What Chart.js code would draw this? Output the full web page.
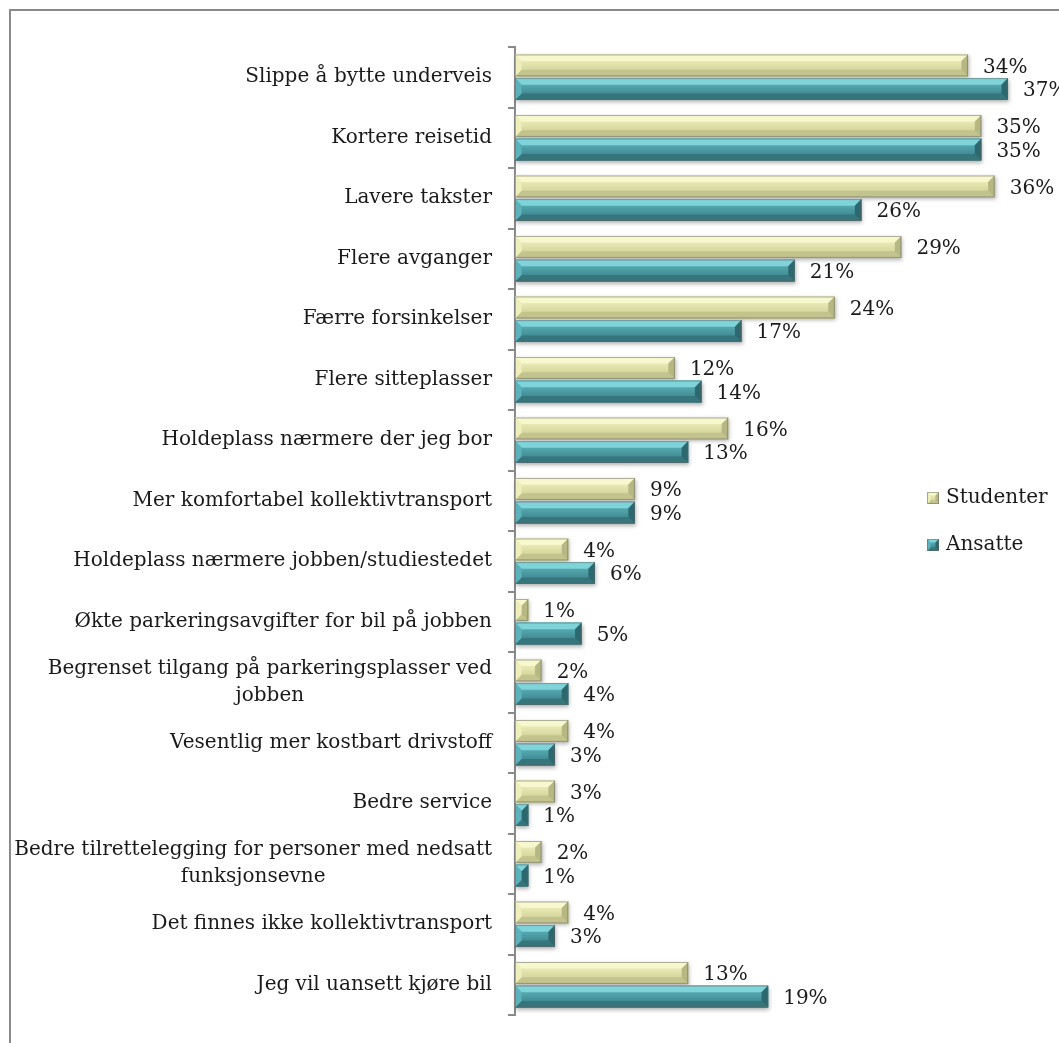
<!DOCTYPE html>
<html>
<head>
<meta charset="utf-8">
<script src="https://cdn.jsdelivr.net/npm/chart.js@4.4.1/dist/chart.umd.min.js"></script>
<style>
  body { margin: 0; background: #fff; }
  #wrap { width: 1059px; height: 1043px; }
</style>
</head>
<body>
<div id="wrap"><canvas id="myChart" width="1059" height="1043"></canvas></div>
<script>
const categories = [
  'Slippe å bytte underveis',
  'Kortere reisetid',
  'Lavere takster',
  'Flere avganger',
  'Færre forsinkelser',
  'Flere sitteplasser',
  'Holdeplass nærmere der jeg bor',
  'Mer komfortabel kollektivtransport',
  'Holdeplass nærmere jobben/studiestedet',
  'Økte parkeringsavgifter for bil på jobben',
  ['Begrenset tilgang på parkeringsplasser ved', 'jobben'],
  'Vesentlig mer kostbart drivstoff',
  'Bedre service',
  ['Bedre tilrettelegging for personer med nedsatt', 'funksjonsevne'],
  'Det finnes ikke kollektivtransport',
  'Jeg vil uansett kjøre bil'
];
const studenter = [34, 35, 36, 29, 24, 12, 16, 9, 4, 1, 2, 4, 3, 2, 4, 13];
const ansatte   = [37, 35, 26, 21, 17, 14, 13, 9, 6, 5, 4, 3, 1, 1, 3, 19];
const seriesNames = ['Studenter', 'Ansatte'];

const FONT = '"DejaVu Serif", "Liberation Serif", serif';
const TEXT = '#1a1a1a';

// bevel shades per series
const shades = [
  { top: '#f8f8cf', midA: '#e9e9b4', midB: '#d6d69e', bottom: '#c3c38e', left: '#eeeebb', right: '#b7b783' },
  { top: '#7fd4da', midA: '#55a8b0', midB: '#438d95', bottom: '#36757c', left: '#5cb2ba', right: '#2e686f' }
];

function poly(ctx, pts, fill) {
  ctx.beginPath();
  ctx.moveTo(pts[0][0], pts[0][1]);
  for (let i = 1; i < pts.length; i++) ctx.lineTo(pts[i][0], pts[i][1]);
  ctx.closePath();
  ctx.fillStyle = fill;
  ctx.fill();
}

function bevelBox(ctx, x0, x1, y0, y1, c, shadow) {
  const w = x1 - x0, h = y1 - y0;
  if (w <= 0) return;
  const b = Math.min(h * 0.3, w / 2);
  const g = ctx.createLinearGradient(0, y0 + b, 0, y1 - b);
  g.addColorStop(0, c.midA);
  g.addColorStop(1, c.midB);
  ctx.save();
  if (shadow) {
    ctx.shadowColor = 'rgba(0,0,0,0.3)';
    ctx.shadowBlur = 4;
    ctx.shadowOffsetX = 1;
    ctx.shadowOffsetY = 2;
  }
  ctx.fillStyle = g;
  ctx.fillRect(x0, y0, w, h);
  ctx.restore();
  poly(ctx, [[x0, y0], [x1, y0], [x1 - b, y0 + b], [x0 + b, y0 + b]], c.top);
  poly(ctx, [[x0, y1], [x1, y1], [x1 - b, y1 - b], [x0 + b, y1 - b]], c.bottom);
  poly(ctx, [[x0, y0], [x0 + b, y0 + b], [x0 + b, y1 - b], [x0, y1]], c.left);
  poly(ctx, [[x1, y0], [x1 - b, y0 + b], [x1 - b, y1 - b], [x1, y1]], c.right);
  ctx.strokeStyle = 'rgba(100,100,100,0.5)';
  ctx.lineWidth = 1;
  ctx.strokeRect(x0 + 0.5, y0 + 0.5, w - 1, h - 1);
}

// white page with the grey frame
const framePlugin = {
  id: 'frame',
  beforeDraw(chart) {
    const ctx = chart.ctx;
    ctx.save();
    ctx.fillStyle = '#fff';
    ctx.fillRect(0, 0, chart.width, chart.height);
    ctx.strokeStyle = '#8a8a8a';
    ctx.lineWidth = 2;
    ctx.strokeRect(10, 10, chart.width + 20, chart.height + 20);
    ctx.restore();
  }
};

// bevelled bars + value labels
const barPlugin = {
  id: 'bevelBars',
  afterDatasetsDraw(chart) {
    const ctx = chart.ctx;
    chart.data.datasets.forEach((ds, di) => {
      const meta = chart.getDatasetMeta(di);
      meta.data.forEach(el => {
        const half = el.height / 2;
        bevelBox(ctx, el.base, el.x, el.y - half, el.y + half, shades[di], true);
      });
    });
    ctx.save();
    ctx.font = '20px ' + FONT;
    ctx.fillStyle = TEXT;
    ctx.textAlign = 'left';
    ctx.textBaseline = 'middle';
    chart.data.datasets.forEach((ds, di) => {
      const meta = chart.getDatasetMeta(di);
      meta.data.forEach((el, i) => {
        ctx.fillText(ds.data[i] + '%', el.x + 15, el.y + 2);
      });
    });
    ctx.restore();
  }
};

// two-line category labels are centred on their widest line
const wrapLabelPlugin = {
  id: 'wrapLabels',
  afterDraw(chart) {
    const ctx = chart.ctx;
    const y = chart.scales.y;
    const right = y.right - 7 - 16;
    ctx.save();
    ctx.font = '20px ' + FONT;
    ctx.fillStyle = TEXT;
    ctx.textAlign = 'center';
    ctx.textBaseline = 'middle';
    categories.forEach((lab, i) => {
      if (!Array.isArray(lab)) return;
      const widest = Math.max(...lab.map(s => ctx.measureText(s).width));
      const cx = right - widest / 2;
      const cy = y.getPixelForTick(i);
      const lh = 27;
      lab.forEach((s, k) => {
        ctx.fillText(s, cx, cy + (k - (lab.length - 1) / 2) * lh);
      });
    });
    ctx.restore();
  }
};

// legend sitting inside the plot area on the right
const legendPlugin = {
  id: 'sideLegend',
  afterDraw(chart) {
    const ctx = chart.ctx;
    const a = chart.chartArea;
    const x = a.right - 121;
    const mid = (a.top + a.bottom) / 2;
    const rows = [mid - 33, mid + 14];
    ctx.save();
    ctx.font = '20px ' + FONT;
    ctx.textAlign = 'left';
    ctx.textBaseline = 'middle';
    seriesNames.forEach((name, i) => {
      const cy = rows[i];
      bevelBox(ctx, x, x + 12, cy - 6, cy + 6, shades[i], false);
      ctx.fillStyle = TEXT;
      ctx.fillText(name, x + 19, cy);
    });
    ctx.restore();
  }
};

const ctx = document.getElementById('myChart');

new Chart(ctx, {
  type: 'bar',
  data: {
    labels: categories,
    datasets: [
      { label: seriesNames[0], data: studenter, backgroundColor: shades[0].midA, borderWidth: 0,
        categoryPercentage: 0.78, barPercentage: 0.93 },
      { label: seriesNames[1], data: ansatte, backgroundColor: shades[1].midA, borderWidth: 0,
        categoryPercentage: 0.78, barPercentage: 0.93 }
    ]
  },
  options: {
    indexAxis: 'y',
    responsive: false,
    animation: false,
    layout: { padding: { left: 0, right: 11, top: 47, bottom: 14 } },
    plugins: {
      legend: { display: false },
      tooltip: { enabled: false }
    },
    scales: {
      x: { display: false, min: 0, max: 40 },
      y: {
        border: { color: '#8a8a8a', width: 2 },
        grid: { drawOnChartArea: false, tickLength: 7, color: '#8a8a8a', lineWidth: 2 },
        ticks: {
          padding: 16,
          font: { family: FONT, size: 20 },
          color: c => Array.isArray(categories[c.index]) ? 'rgba(0,0,0,0)' : TEXT
        },
        afterFit(scale) { scale.width = 515; }
      }
    }
  },
  plugins: [framePlugin, barPlugin, wrapLabelPlugin, legendPlugin]
});
</script>
</body>
</html>
